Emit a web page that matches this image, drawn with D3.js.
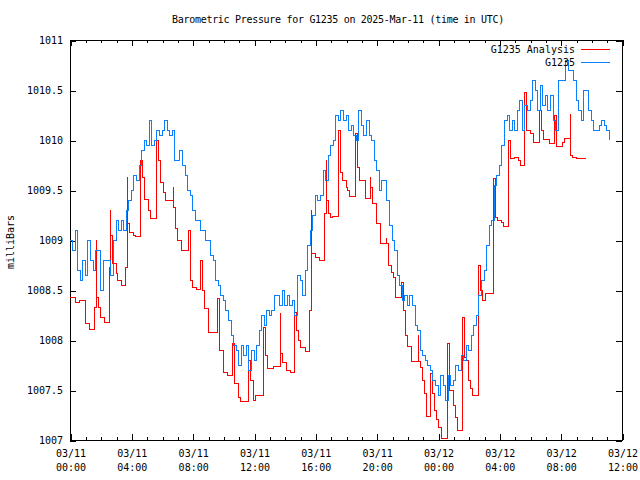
<!DOCTYPE html>
<html><head><meta charset="utf-8">
<script src="https://cdn.jsdelivr.net/npm/d3@7"></script>
<style>
body{margin:0;background:#fff}
svg text{font-family:"DejaVu Sans Mono",monospace;font-size:10px;fill:#000}
</style>
</head><body><svg id="c" width="640" height="480"></svg>
<script>
// ---------- data ----------
const title = "Barometric Pressure for G1235 on 2025-Mar-11 (time in UTC)";
const yLabel = "milliBars";
const seriesNames = ["G1235 Analysis", "G1235"];
const yTicks = [1007, 1007.5, 1008, 1008.5, 1009, 1009.5, 1010, 1010.5, 1011];
const yTickLabels = ["1007", "1007.5", "1008", "1008.5", "1009", "1009.5", "1010", "1010.5", "1011"];
const xTickHours = [0, 4, 8, 12, 16, 20, 24, 28, 32, 36];
const xTickDates = ["03/11","03/11","03/11","03/11","03/11","03/11","03/12","03/12","03/12","03/12"];
const xTickTimes = ["00:00","04:00","08:00","12:00","16:00","20:00","00:00","04:00","08:00","12:00"];

// G1235 observations, one value every 10 minutes from 03/11 00:00 UTC
const blueStepMinutes = 10;
const blueValues = [
1009.0,1008.9,1009.1,1008.7,1008.6,1008.8,1008.65,1009.0,1008.8,1008.7,
1008.9,1008.9,1008.5,1008.8,1008.8,1008.8,1008.65,1009.0,1009.2,1009.1,
1009.2,1009.1,1009.3,1009.4,1009.5,1009.65,1009.6,1009.75,1009.9,1010.0,
1009.95,1010.2,1009.95,1010.0,1010.1,1010.05,1010.1,1010.2,1010.1,1010.05,
1010.1,1009.8,1009.8,1009.9,1009.75,1009.65,1009.5,1009.45,1009.3,1009.2,
1009.2,1009.1,1009.1,1009.0,1009.0,1008.85,1008.8,1008.6,1008.55,1008.45,
1008.4,1008.3,1008.2,1008.05,1007.95,1007.9,1007.75,1007.95,1007.85,1007.95,
1007.7,1007.9,1007.8,1007.95,1008.1,1008.25,1008.15,1008.3,1008.25,1008.3,
1008.45,1008.45,1008.35,1008.5,1008.35,1008.45,1008.35,1008.4,1008.25,1008.65,
1008.6,1008.45,1008.7,1008.95,1009.1,1009.25,1009.45,1009.4,1009.45,1009.7,
1009.6,1009.85,1009.95,1010.0,1010.25,1010.2,1010.3,1010.2,1010.25,1010.1,
1010.15,1010.05,1010.0,1010.3,1010.15,1010.05,1010.2,1010.05,1010.0,1009.8,
1009.7,1009.5,1009.6,1009.6,1009.4,1009.15,1009.0,1008.9,1008.65,1008.55,
1008.4,1008.45,1008.35,1008.45,1008.35,1008.15,1008.1,1007.9,1007.85,1007.8,
1007.75,1007.7,1007.6,1007.55,1007.45,1007.65,1007.55,1007.4,1007.65,1007.55,
1007.6,1007.75,1007.7,1007.85,1007.8,1007.95,1007.9,1008.05,1008.15,1008.25,
1008.45,1008.6,1008.7,1008.95,1009.15,1009.2,1009.55,1009.65,1009.75,1009.95,
1010.2,1010.25,1010.1,1010.2,1010.1,1010.3,1010.4,1010.1,1010.35,1010.3,
1010.4,1010.6,1010.5,1010.3,1010.55,1010.35,1010.45,1010.3,1010.45,1010.2,
1010.1,1010.6,1010.6,1010.6,1010.8,1010.7,1010.7,1010.6,1010.4,1010.3,
1010.2,1010.5,1010.5,1010.3,1010.2,1010.1,1010.1,1010.15,1010.2,1010.15,
1010.1,1010.0
];

// G1235 Analysis: change points (hours after 03/11 00:00 UTC) and values
const redHours = [
0,0.33,0.65,0.98,1.04,1.30,1.63,1.70,1.76,1.89,2.02,2.22,2.58,2.61,2.67,2.76,
3.0,3.13,3.33,3.65,3.72,3.78,3.91,4.11,4.30,4.63,4.70,4.83,5.09,5.28,5.61,5.67,
5.74,5.87,6.07,6.20,6.72,6.78,6.85,7.04,7.24,7.70,7.83,7.89,8.02,8.22,8.54,8.67,
8.80,9.0,9.65,9.72,9.78,9.98,10.30,10.63,10.76,10.96,11.09,11.61,11.74,11.94,12.13,
12.59,12.65,12.78,12.91,13.24,13.70,13.76,13.89,14.09,14.35,14.67,14.74,14.87,15.0,
15.33,15.65,15.72,15.78,16.04,16.30,16.63,16.70,16.76,16.83,16.96,17.15,17.48,17.54,
17.61,17.67,17.80,18.0,18.13,18.26,18.65,18.72,18.91,19.24,19.30,19.57,19.63,19.76,
19.96,20.22,20.28,20.61,20.67,20.74,20.94,21.07,21.26,21.59,21.72,21.85,21.91,22.04,
22.24,22.70,22.76,22.83,23.02,23.15,23.22,23.54,23.67,23.80,23.87,24.0,24.20,24.65,
24.72,24.78,24.98,25.17,25.30,25.63,25.70,25.83,25.96,26.15,26.28,26.61,26.67,26.74,
26.93,27.13,27.59,27.65,27.72,27.91,28.11,28.24,28.57,28.63,28.76,29.02,29.22,29.35,
29.61,29.74,30.0,30.20,30.65,30.72,30.85,31.30,31.63,31.70,32.15,32.28,32.61,32.67,
32.80,33.0,33.65
];
const redValues = [
1008.43,1008.38,1008.40,1008.30,1008.17,1008.11,1008.33,1009.0,1008.43,1008.33,1008.23,1008.18,1008.73,1009.3,1009.05,1008.77,
1008.67,1008.6,1008.55,1008.73,1009.63,1009.17,1009.08,1009.05,1009.04,1009.8,1009.63,1009.41,1009.30,1009.22,1009.62,1010.0,
1009.8,1009.58,1009.48,1009.4,1009.53,1009.33,1009.12,1009.0,1008.9,1009.1,1008.73,1008.6,1008.53,1008.51,1008.8,1008.5,
1008.32,1008.08,1008.42,1008.17,1007.9,1007.68,1007.65,1007.97,1007.57,1007.43,1007.39,1007.8,1007.6,1007.4,1007.45,
1007.93,1008.13,1007.85,1007.72,1007.74,1008.27,1007.87,1007.78,1007.7,1007.68,1008.28,1008.1,1008.0,1007.93,
1007.89,1008.3,1009.3,1008.87,1008.83,1008.8,1009.27,1009.8,1009.4,1009.27,1009.23,1009.24,1009.67,1010.1,
1009.8,1009.68,1009.6,1009.53,1009.5,1009.44,1010.07,1009.73,1009.6,1009.5,1009.42,1009.63,1009.53,1009.37,
1009.17,1009.02,1008.97,1009.02,1008.97,1008.75,1008.68,1008.63,1008.43,1008.58,1008.3,1008.2,1008.05,1007.94,
1007.79,1008.05,1007.79,1007.73,1007.6,1007.47,1007.24,1007.67,1007.47,1007.3,1007.21,1007.13,1007.02,1007.97,
1007.65,1007.5,1007.35,1007.23,1007.1,1008.23,1007.83,1007.8,1007.6,1007.52,1007.45,1008.43,1008.75,1008.5,
1008.4,1008.47,1009.03,1009.62,1009.23,1009.2,1009.18,1009.14,1009.5,1010.0,1009.82,1009.83,1009.8,1009.75,
1010.48,1010.1,1010.07,1009.98,1010.3,1010.1,1010.01,1009.97,1010.25,1009.94,1009.98,1010.02,1010.26,1009.85,
1009.83,1009.82,1009.82
];

const colors = ["#ff0000", "#0a80ff"];

// ---------- chart ----------
const t0 = Date.UTC(2025, 2, 11, 0, 0);
const H = 3600000;
const svg = d3.select("#c");
const L = 70, R = 622, T = 40, B = 440;

const x = d3.scaleUtc().domain([new Date(t0), new Date(t0 + 36 * H)]).range([L, R]);
const y = d3.scaleLinear().domain([1007, 1011]).range([B, T]);

const blueData = blueValues.map((v, i) => ({t: new Date(t0 + i * blueStepMinutes * 60000), v}));
const redData = redHours.map((h, i) => ({t: new Date(t0 + h * H), v: redValues[i]}));

const majorTicks = xTickHours.map(h => new Date(t0 + h * H));
const minorTicks = d3.range(0, 37).map(h => new Date(t0 + h * H));

function clean(g) { g.select(".domain").remove(); g.selectAll(".tick line").attr("stroke", "#000").attr("shape-rendering", "crispEdges"); }

// minor x ticks (bottom / top)
svg.append("g").attr("transform", `translate(0.5,${B})`)
  .call(d3.axisBottom(x).tickValues(minorTicks).tickSize(-3).tickFormat(""))
  .call(clean).selectAll("text").remove();
svg.append("g").attr("transform", `translate(0.5,${T})`)
  .call(d3.axisTop(x).tickValues(minorTicks).tickSize(-3).tickFormat(""))
  .call(clean).selectAll("text").remove();

// major x ticks
const gx = svg.append("g").attr("transform", `translate(0.5,${B})`)
  .call(d3.axisBottom(x).tickValues(majorTicks).tickSize(-6).tickPadding(0).tickFormat(""))
  .call(clean);
gx.selectAll(".tick text").each(function(d, i) {
  const t = d3.select(this).attr("y", null).attr("dy", null).attr("fill", "#000");
  t.append("tspan").attr("x", 0).attr("y", 17).text(xTickDates[i]);
  t.append("tspan").attr("x", 0).attr("y", 31).text(xTickTimes[i]);
});
svg.append("g").attr("transform", `translate(0.5,${T})`)
  .call(d3.axisTop(x).tickValues(majorTicks).tickSize(-6).tickFormat(""))
  .call(clean).selectAll("text").remove();

// y axes
svg.append("g").attr("transform", `translate(${L},0.5)`)
  .call(d3.axisLeft(y).tickValues(yTicks).tickSize(-6).tickPadding(7).tickFormat((d, i) => yTickLabels[i]))
  .call(clean).selectAll("text").attr("fill", "#000");
svg.append("g").attr("transform", `translate(${R},0.5)`)
  .call(d3.axisRight(y).tickValues(yTicks).tickSize(-6).tickFormat(""))
  .call(clean).selectAll("text").remove();

// border
svg.append("rect").attr("x", L + 0.5).attr("y", T + 0.5).attr("width", R - L).attr("height", B - T)
  .attr("fill", "none").attr("stroke", "#000").attr("shape-rendering", "crispEdges");

// lines
const line = d3.line().x(d => x(d.t)).y(d => y(d.v)).curve(d3.curveStepAfter);
svg.append("path").datum(redData).attr("d", line).attr("fill", "none")
  .attr("stroke", colors[0]).attr("stroke-width", 1).attr("shape-rendering", "crispEdges");
svg.append("path").datum(blueData).attr("d", line).attr("fill", "none")
  .attr("stroke", colors[1]).attr("stroke-width", 1).attr("shape-rendering", "crispEdges");

// title & labels
svg.append("text").attr("x", 338).attr("y", 23).attr("text-anchor", "middle")
  .style("letter-spacing", "-0.3px").text(title);
svg.append("text").attr("transform", "translate(14,242) rotate(-90)").attr("text-anchor", "middle").text(yLabel);

// legend
const leg = svg.append("g");
seriesNames.forEach((name, i) => {
  const yy = 49 + i * 13;
  leg.append("text").attr("x", 575).attr("y", yy).attr("dy", "0.35em").attr("text-anchor", "end").text(name);
  leg.append("line").attr("x1", 581).attr("x2", 610).attr("y1", yy + 0.5).attr("y2", yy + 0.5)
    .attr("stroke", colors[i]).attr("stroke-width", 1).attr("shape-rendering", "crispEdges");
});
</script></body></html>
